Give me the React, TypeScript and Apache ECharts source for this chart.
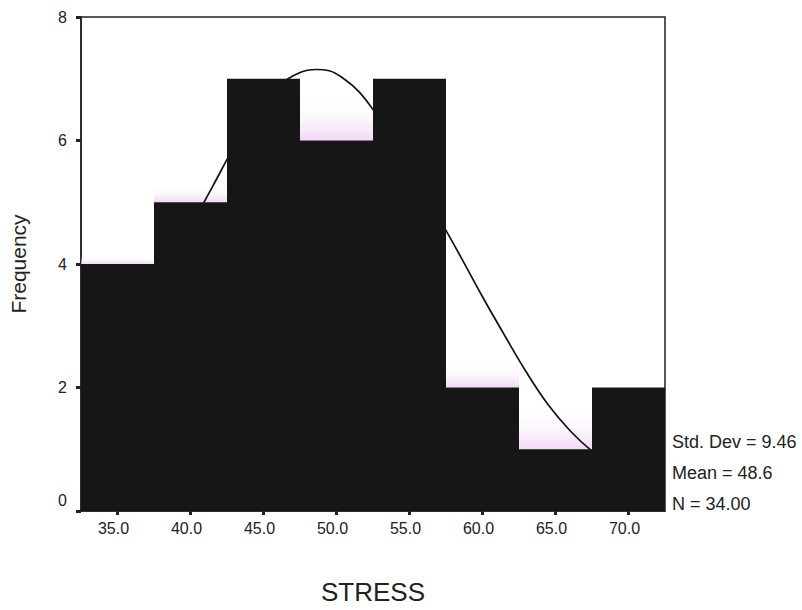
import React, { useEffect, useRef } from "react";
import * as echarts from "echarts";

const binLabels = ["35.0", "40.0", "45.0", "50.0", "55.0", "60.0", "65.0", "70.0"];
const frequencies = [4, 5, 7, 6, 7, 2, 1, 2];
// faint pink tint visible just above some bars in the scan
const tintHeights = [0.12, 0.25, 0, 0.7, 0, 0.4, 0.65, 0];
// normal curve as [STRESS, frequency]
const curvePoints: [number, number][] = [
  [32.5, 1.65], [34, 2.15], [35.5, 2.7], [37, 3.3], [38.5, 3.95], [40, 4.6],
  [41.5, 5.25], [43, 5.9], [44.5, 6.45], [46, 6.88], [47.5, 7.1], [48.6, 7.15],
  [49.5, 7.13], [50.5, 7.0], [51.5, 6.8], [52.5, 6.5], [54, 5.95], [55.5, 5.35],
  [57, 4.75], [58.5, 4.12], [60, 3.47], [61.5, 2.85], [63, 2.25], [64.5, 1.72],
  [66, 1.3], [67.5, 0.97], [69, 0.72], [70.5, 0.52], [72.5, 0.32],
];
const yTicks = { min: 0, max: 8, interval: 2 };
const statsLines = ["Std. Dev = 9.46", "Mean = 48.6", "N = 34.00"];

export default function App() {
  const ref = useRef<HTMLDivElement>(null);
  useEffect(() => {
    if (!ref.current) return;
    const chart = echarts.init(ref.current, null, { renderer: "svg" });
    const font = "Liberation Sans, Arial, sans-serif";
    chart.setOption({
      animation: false,
      backgroundColor: "#ffffff",
      grid: {
        left: 79,
        right: 137,
        top: 17,
        bottom: 94,
        show: true,
        borderColor: "#222",
        borderWidth: 1.5,
        backgroundColor: "transparent",
      },
      xAxis: [
        {
          type: "category",
          data: binLabels,
          boundaryGap: true,
          axisLine: { show: true, lineStyle: { color: "#222", width: 1.5 } },
          axisTick: { show: true, alignWithLabel: true, length: 4, lineStyle: { color: "#222", width: 3 } },
          axisLabel: { color: "#222", fontSize: 16, fontFamily: font, margin: 9, padding: [0, 8, 0, 0] },
          name: "STRESS",
          nameLocation: "middle",
          nameGap: 68,
          nameTextStyle: { color: "#222", fontSize: 26, fontFamily: font },
          splitLine: { show: false },
        },
        {
          type: "value",
          min: 32.5,
          max: 72.5,
          show: false,
          splitLine: { show: false },
        },
      ],
      yAxis: {
        type: "value",
        min: yTicks.min,
        max: yTicks.max,
        interval: yTicks.interval,
        axisLine: { show: true, lineStyle: { color: "#222", width: 1.5 } },
        axisTick: { show: true, length: 5, lineStyle: { color: "#222", width: 3 } },
        axisLabel: {
          color: "#222",
          fontSize: 16,
          fontFamily: font,
          margin: 14,
          formatter: (v: number) => (v === 0 ? "{z|0}" : "{n|" + v + "}"),
          rich: {
            z: { fontSize: 16, fontFamily: font, color: "#222", padding: [0, 0, 22, 0] },
            n: { fontSize: 16, fontFamily: font, color: "#222" },
          },
        },
        splitLine: { show: false },
        name: "Frequency",
        nameLocation: "middle",
        nameGap: 52,
        nameRotate: 90,
        nameTextStyle: { color: "#222", fontSize: 21, fontFamily: font },
      },
      series: [
        {
          type: "bar",
          name: "Frequency",
          data: frequencies,
          stack: "h",
          barCategoryGap: "0%",
          itemStyle: { color: "#161616" },
          z: 5,
        },
        {
          type: "bar",
          name: "tint",
          data: tintHeights,
          stack: "h",
          barCategoryGap: "0%",
          itemStyle: {
            color: new echarts.graphic.LinearGradient(0, 0, 0, 1, [
              { offset: 0, color: "rgba(255,255,255,0)" },
              { offset: 1, color: "rgba(238,208,242,0.85)" },
            ]),
          },
          z: 1,
        },
        {
          type: "line",
          name: "Normal",
          xAxisIndex: 1,
          data: curvePoints,
          smooth: 0.4,
          symbol: "none",
          lineStyle: { color: "#111", width: 1.7 },
          z: 3,
        },
      ],
      graphic: statsLines.map((t, i) => ({
        type: "text",
        left: 672,
        top: 433 + i * 31,
        style: { text: t, fontSize: 18, fontFamily: font, fill: "#222" },
      })),
    });
    return () => chart.dispose();
  }, []);
  return (
    <div
      ref={ref}
      style={{ position: "absolute", left: 0, top: 0, width: 802, height: 610 }}
    />
  );
}
